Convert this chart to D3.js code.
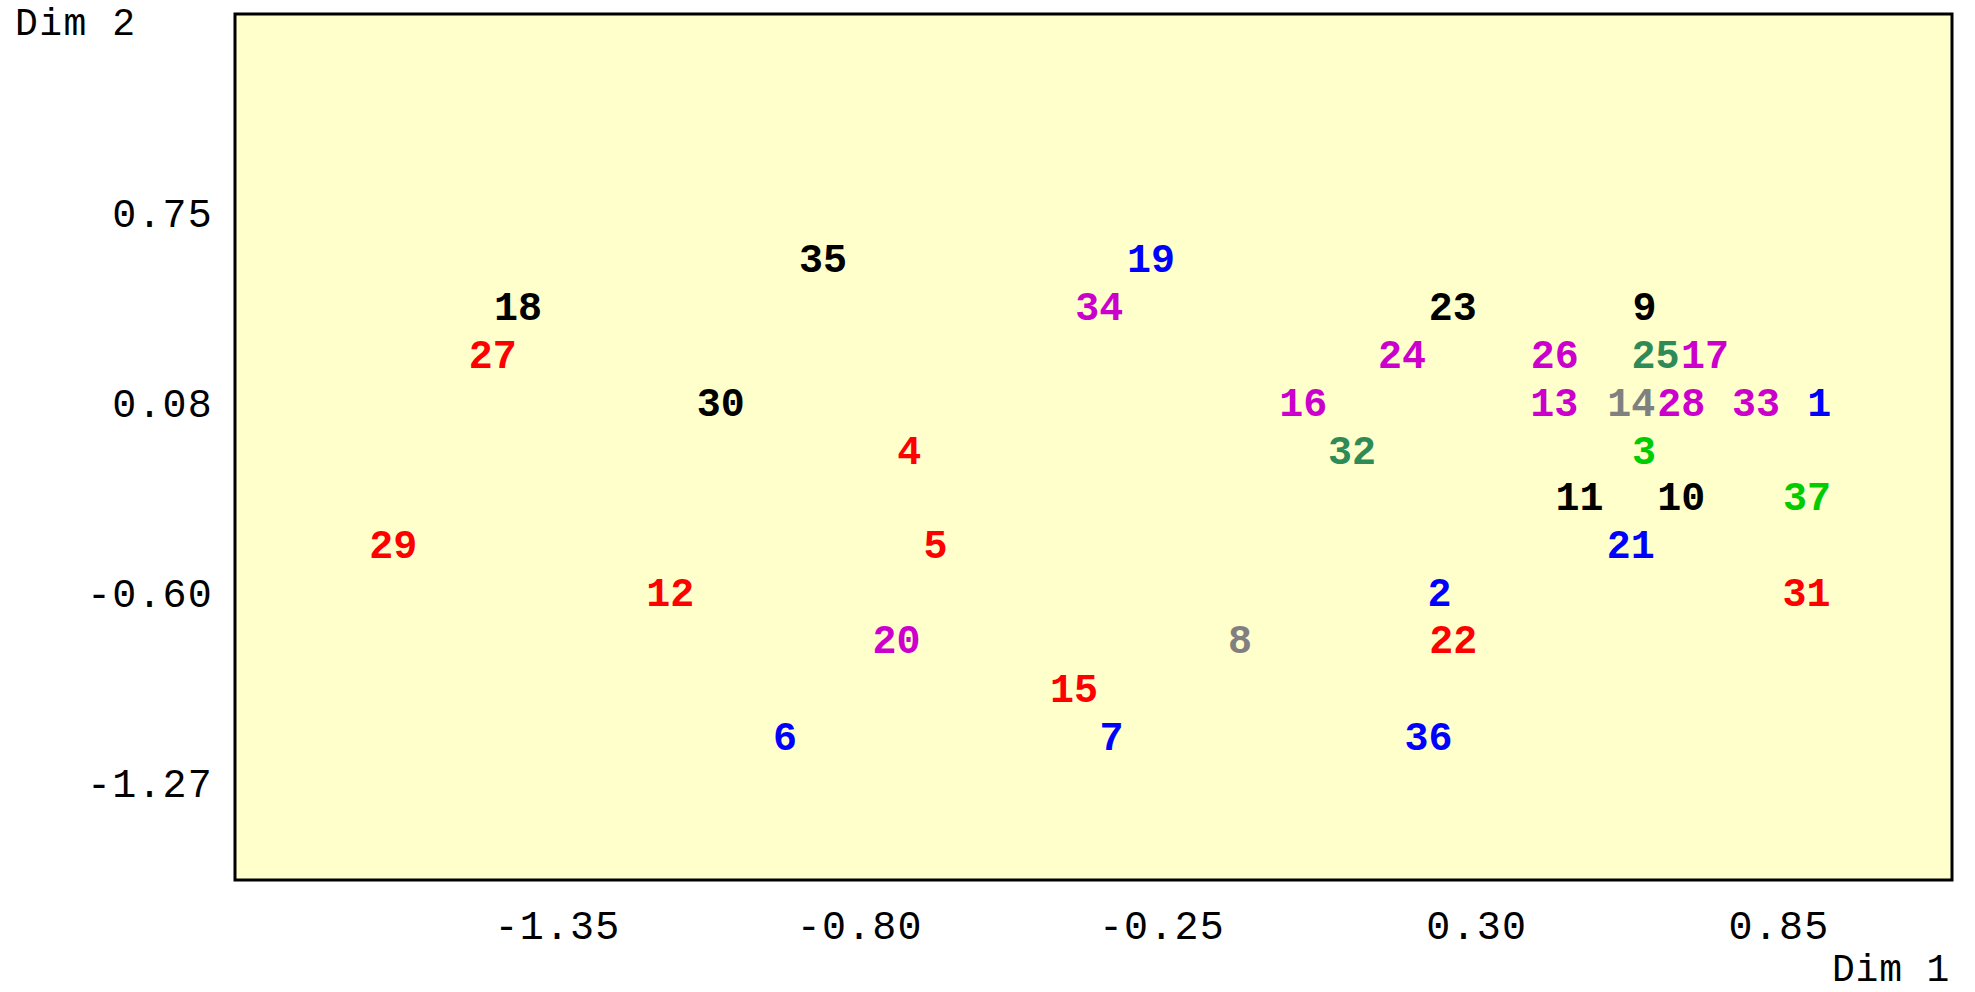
<!DOCTYPE html>
<html>
<head>
<meta charset="utf-8">
<script src="https://cdn.jsdelivr.net/npm/d3@7"></script>
<style>
  body { margin: 0; background: #fff; }
</style>
</head>
<body>
<div id="chart"></div>
<script>
// point ids, coordinates and group of each point
const ids = [1, 2, 3, 4, 5, 6, 7, 8, 9, 10, 11, 12, 13, 14, 15, 16, 17, 18, 19, 20,
             21, 22, 23, 24, 25, 26, 27, 28, 29, 30, 31, 32, 33, 34, 35, 36, 37];
const dim1 = [0.947, 0.256, 0.628, -0.709, -0.661, -0.935, -0.341, -0.107, 0.629, 0.696,
              0.511, -1.144, 0.465, 0.605, -0.409, 0.008, 0.739, -1.421, -0.269, -0.732,
              0.604, 0.281, 0.280, 0.188, 0.649, 0.466, -1.467, 0.696, -1.648, -1.052,
              0.924, 0.097, 0.832, -0.363, -0.866, 0.236, 0.925];
const dim2 = [0.077, -0.598, -0.094, -0.094, -0.428, -1.109, -1.109, -0.767, 0.418, -0.259,
              -0.259, -0.598, 0.077, 0.077, -0.939, 0.077, 0.247, 0.418, 0.588, -0.767,
              -0.428, -0.767, 0.418, 0.247, 0.247, 0.247, 0.247, 0.077, -0.428, 0.077,
              -0.598, -0.094, 0.077, 0.418, 0.588, -1.109, -0.259];
const group = [3, 3, 7, 2, 2, 3, 3, 5, 1, 1,
               1, 2, 4, 5, 2, 4, 4, 1, 3, 4,
               3, 2, 1, 4, 6, 4, 2, 4, 2, 1,
               2, 6, 4, 4, 1, 3, 7];

const groups = [1, 2, 3, 4, 5, 6, 7];
const xTicks = [-1.35, -0.80, -0.25, 0.30, 0.85];
const xTickLabels = ['-1.35', '-0.80', '-0.25', '0.30', '0.85'];
const yTicks = [0.75, 0.075, -0.60, -1.275];
const yTickLabels = ['0.75', '0.08', '-0.60', '-1.27'];

const width = 1975, height = 992;
const box = { left: 235, top: 14, right: 1952, bottom: 880 };

const svg = d3.select('#chart')
              .append('svg')
              .attr('width', width)
              .attr('height', height);

const x = d3.scaleLinear().domain([-1.936, 1.1887]).range([box.left, box.right]);
const y = d3.scaleLinear().domain([-1.6177, 1.4587]).range([box.bottom, box.top]);

const color = d3.scaleOrdinal()
                .domain(groups)
                .range(['#000000', '#ff0000', '#0000ff', '#cc00cc', '#808080', '#2e8b57', '#00cc00']);

// plot area
svg.append('rect')
   .attr('x', box.left)
   .attr('y', box.top)
   .attr('width', box.right - box.left)
   .attr('height', box.bottom - box.top)
   .attr('fill', '#ffffcc')
   .attr('stroke', '#000')
   .attr('stroke-width', 3);

// axes (labels only)
const xAxis = d3.axisBottom(x)
                .tickValues(xTicks)
                .tickFormat((d, i) => xTickLabels[i])
                .tickSize(0)
                .tickPadding(31);

const yAxis = d3.axisLeft(y)
                .tickValues(yTicks)
                .tickFormat((d, i) => yTickLabels[i])
                .tickSize(0)
                .tickPadding(22);

const gx = svg.append('g')
              .attr('transform', `translate(0,${box.bottom})`)
              .call(xAxis);
gx.select('.domain').remove();
gx.selectAll('text')
  .attr('text-anchor', 'end')
  .attr('dx', 63);

const gy = svg.append('g')
              .attr('transform', `translate(${box.left},0)`)
              .call(yAxis);
gy.select('.domain').remove();

svg.selectAll('.tick text')
   .attr('font-family', '"Liberation Mono", monospace')
   .attr('font-size', 40)
   .attr('letter-spacing', 1.2)
   .attr('fill', '#000');

// axis titles
svg.append('text')
   .attr('x', 15)
   .attr('y', 35)
   .attr('font-family', '"Liberation Mono", monospace')
   .attr('font-size', 38)
   .attr('letter-spacing', 1.5)
   .text('Dim 2');

svg.append('text')
   .attr('x', 1950)
   .attr('y', 981)
   .attr('text-anchor', 'end')
   .attr('font-family', '"Liberation Mono", monospace')
   .attr('font-size', 38)
   .attr('letter-spacing', 0.8)
   .text('Dim 1');

// point labels
const points = ids.map((id, i) => ({ id: id, d1: dim1[i], d2: dim2[i], g: group[i] }));

svg.append('g')
   .selectAll('text')
   .data(points)
   .join('text')
   .attr('x', d => x(d.d1))
   .attr('y', d => y(d.d2))
   .attr('dy', '0.32em')
   .attr('text-anchor', 'middle')
   .attr('font-family', '"Liberation Mono", monospace')
   .attr('font-weight', 'bold')
   .attr('font-size', 40)
   .attr('fill', d => color(d.g))
   .text(d => d.id);
</script>
</body>
</html>
